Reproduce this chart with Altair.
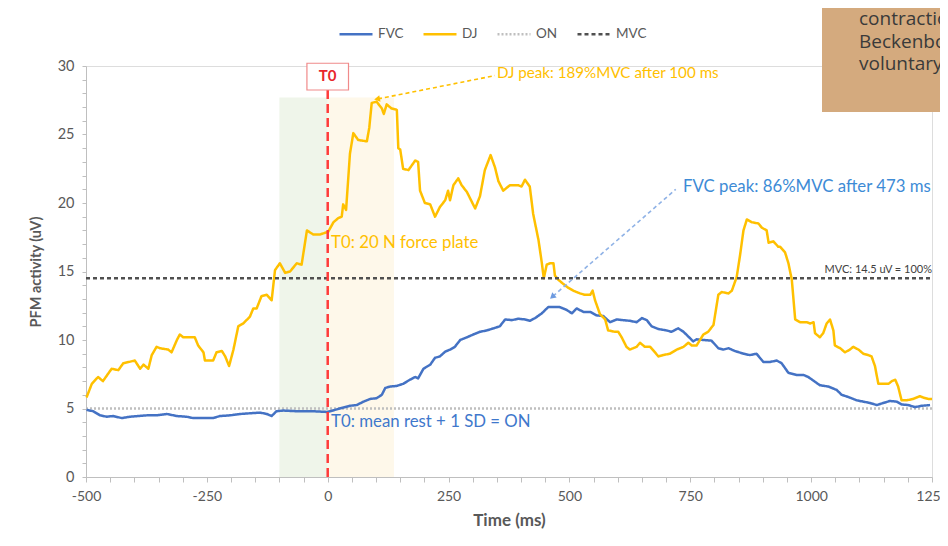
import altair as alt
import pandas as pd

# ---------------- data ----------------
dj_time = [-499, -488, -475, -465, -447, -433, -423, -399, -388, -381, -371, -364, -354, -347,
           -330, -323, -312, -306, -299, -285, -275, -268, -257, -254, -237, -230, -219, -212,
           -204, -195, -185, -175, -161, -154, -147, -137, -126, -116, -109, -99, -88, -78, -64,
           -54, -43, -30, -16, 1, 12, 22, 29, 32, 38, 46, 53, 63, 81, 86, 91, 101, 112, 116, 122,
           132, 143, 146, 150, 156, 167, 181, 187, 191, 201, 212, 222, 232, 243, 249, 253, 260,
           270, 277, 288, 305, 315, 325, 337, 346, 353, 363, 377, 394, 401, 408, 418, 425, 436,
           443, 447, 453, 460, 467, 470, 477, 487, 498, 508, 515, 522, 532, 543, 548, 553, 563,
           574, 580, 594, 601, 608, 618, 625, 639, 646, 656, 667, 677, 684, 694, 708, 722, 736,
           746, 753, 763, 770, 777, 787, 798, 808, 815, 829, 836, 846, 853, 860, 867, 877, 891,
           898, 908, 912, 922, 932, 936, 946, 953, 960, 967, 977, 991, 998, 1005, 1008, 1018,
           1025, 1032, 1039, 1046, 1049, 1060, 1070, 1080, 1087, 1098, 1108, 1118, 1125, 1132,
           1139, 1149, 1160, 1167, 1174, 1180, 1187, 1198, 1211, 1225, 1232, 1242, 1250]
dj_value = [5.8, 6.8, 7.3, 7.0, 7.9, 7.8, 8.3, 8.5, 7.9, 8.2, 7.9, 8.9, 9.5, 9.4,
            9.3, 9.1, 10.0, 10.4, 10.2, 10.2, 10.2, 9.6, 9.1, 8.5, 8.5, 9.1, 9.2, 8.8,
            8.1, 9.3, 11.0, 11.2, 11.7, 12.3, 12.3, 13.2, 13.3, 12.9, 15.1, 15.6, 14.9, 15.0, 15.6,
            15.5, 18.0, 17.7, 17.7, 17.9, 18.6, 18.9, 19.0, 19.9, 19.5, 23.6, 25.1, 24.6, 24.5, 25.5, 27.3, 27.4, 26.9, 26.5, 27.2,
            26.9, 26.8, 24.0, 23.9, 22.5, 22.4, 23.1, 23.0, 20.9, 20.0, 19.9, 19.0, 19.7, 20.2, 20.9, 20.2, 21.3,
            21.8, 21.3, 20.8, 19.6, 20.5, 22.4, 23.5, 22.6, 21.6, 20.9, 21.3, 21.3, 21.2, 21.7, 21.2, 19.2, 17.3,
            15.6, 14.5, 15.5, 15.6, 15.6, 14.7, 14.4, 14.1, 13.8, 13.6, 13.5, 13.4, 13.3, 13.3, 13.6, 12.9, 11.9,
            11.5, 10.7, 10.6, 10.6, 10.2, 9.5, 9.3, 9.5, 9.8, 9.5, 9.5, 9.1, 8.8, 8.9, 9.0, 9.3, 9.5,
            9.8, 9.6, 9.6, 10.0, 10.4, 10.6, 11.1, 13.3, 13.5, 13.4, 13.6, 14.6, 16.2, 18.0, 18.8, 18.6, 18.5,
            18.2, 18.0, 17.1, 17.2, 16.8, 16.8, 16.4, 15.6, 14.4, 11.5, 11.3, 11.3, 11.2, 11.3, 10.5, 10.2,
            10.5, 11.2, 11.5, 10.7, 9.6, 9.4, 9.1, 9.3, 9.5, 9.3, 9.0, 8.9, 8.8, 8.1,
            6.8, 6.8, 6.8, 7.0, 7.1, 6.6, 5.6, 5.6, 5.7, 5.9, 5.8, 5.7, 5.7]

fvc_time = [-499, -485, -471, -457, -444, -426, -409, -392, -374, -354, -333, -312, -292, -278,
            -257, -237, -223, -202, -181, -161, -140, -126, -116, -106, -92, -64, -30, -2, 5, 25,
            46, 60, 74, 88, 101, 112, 119, 129, 143, 156, 170, 181, 187, 198, 212, 222, 232, 243,
            253, 263, 274, 288, 301, 315, 329, 343, 356, 367, 381, 394, 408, 418, 429, 443, 456,
            470, 480, 494, 505, 515, 529, 543, 556, 570, 584, 598, 611, 625, 639, 650, 660, 670,
            684, 701, 711, 725, 736, 746, 756, 763, 777, 794, 808, 818, 829, 842, 860, 873, 887,
            901, 915, 929, 939, 953, 970, 984, 994, 1008, 1018, 1036, 1053, 1063, 1080, 1094,
            1108, 1122, 1136, 1149, 1163, 1177, 1187, 1201, 1215, 1229, 1246]
fvc_value = [4.9, 4.8, 4.5, 4.4, 4.45, 4.3, 4.4, 4.45, 4.5, 4.5, 4.6, 4.45, 4.4, 4.3,
             4.3, 4.3, 4.45, 4.5, 4.6, 4.65, 4.7, 4.6, 4.45, 4.8, 4.85, 4.8, 4.8, 4.75, 4.8, 5.0,
             5.2, 5.25, 5.5, 5.7, 5.75, 6.0, 6.5, 6.6, 6.65, 6.8, 7.1, 7.3, 7.2, 7.9, 8.2, 8.7, 8.8, 9.15,
             9.3, 9.5, 10.0, 10.2, 10.4, 10.6, 10.7, 10.85, 11.0, 11.5, 11.45, 11.55, 11.5, 11.4, 11.6, 11.95, 12.4,
             12.4, 12.4, 12.2, 11.95, 12.3, 12.05, 12.05, 11.8, 11.75, 11.3, 11.5, 11.45, 11.4, 11.3, 11.6, 11.45, 11.0,
             10.8, 10.7, 10.6, 10.85, 10.6, 10.25, 9.9, 10.05, 10.0, 9.95, 9.4, 9.3, 9.4, 9.2, 9.0, 8.9, 9.0,
             8.4, 8.4, 8.5, 8.3, 7.6, 7.45, 7.45, 7.3, 6.95, 6.7, 6.6, 6.35, 6.0, 5.8, 5.6,
             5.5, 5.4, 5.25, 5.4, 5.55, 5.5, 5.3, 5.25, 5.1, 5.2, 5.25]

series_names = ["FVC", "DJ", "ON", "MVC"]
series_colors = ["#4472C4", "#FFC000", "#BFBFBF", "#505050"]
series_dash = [[1, 0], [1, 0], [2, 2], [4, 3]]
series_width = [2.5, 2.5, 1.5, 2.5]
ref_time = [-500, 1250]
on_level = 5.0
mvc_level = 14.5

x_ticks = list(range(-500, 1251, 50))
y_ticks = list(range(0, 31, 1))

note_lines = ["contractio", "Beckenbo", "voluntary"]

# ---------------- tables ----------------
rows = []
for t in ref_time:
    rows.append({"x": t, "y": on_level, "series": "ON"})
for t, v in zip(fvc_time, fvc_value):
    rows.append({"x": t, "y": v, "series": "FVC"})
for t, v in zip(dj_time, dj_value):
    rows.append({"x": t, "y": v, "series": "DJ"})
for t in ref_time:
    rows.append({"x": t, "y": mvc_level, "series": "MVC"})
lines_df = pd.DataFrame(rows)

FONT = "Lato"
GRAY = "#595959"

xscale = alt.Scale(domain=[-500, 1250], nice=False, zero=False)
yscale = alt.Scale(domain=[0, 30], nice=False, zero=False)

x_axis = alt.Axis(values=x_ticks,
                  labelExpr="datum.value % 250 === 0 ? '' + datum.value : ''",
                  labelOverlap=False, labelFlush=False, grid=False,
                  tickSize=5, tickColor="#BFBFBF", domainColor="#BFBFBF",
                  labelColor=GRAY, labelFontSize=14, labelPadding=7, labelFont=FONT,
                  title="Time (ms)", titleColor=GRAY, titleFontSize=17, titleFontWeight="bold",
                  titleFont=FONT, titlePadding=9)
y_axis = alt.Axis(values=y_ticks, labelExpr="datum.value % 5 === 0 ? datum.label : ''",
                  labelOverlap=False, labelFlush=False, grid=False,
                  tickSize=4, tickColor="#BFBFBF", domainColor="#BFBFBF",
                  labelColor=GRAY, labelFontSize=14.5, labelPadding=8, labelFont=FONT,
                  title="PFM activity (uV)", titleColor=GRAY, titleFontSize=14.5, titleFontWeight="bold",
                  titleFont=FONT, titlePadding=14)


def X(f="x"):
    return alt.X(f"{f}:Q", scale=xscale, axis=x_axis)


def Y(f="y"):
    return alt.Y(f"{f}:Q", scale=yscale, axis=y_axis)


# shaded windows
shade_df = pd.DataFrame({"x": [-100, 0], "x2": [0, 137], "y": [0, 0], "y2": [27.7, 27.7],
                         "fill": ["#EFF5EA", "#FEF8EA"]})
shades = alt.Chart(shade_df).mark_rect().encode(
    x=X(), x2="x2:Q", y=Y(), y2="y2:Q",
    color=alt.Color("fill:N", scale=None),
)

lines = alt.Chart(lines_df).mark_line(strokeJoin="round").encode(
    x=X(), y=Y(),
    color=alt.Color("series:N", scale=alt.Scale(domain=series_names, range=series_colors),
                    legend=alt.Legend(title=None, orient="none", direction="horizontal",
                                      legendX=252, legendY=-50, symbolType="stroke",
                                      symbolSize=1089, symbolStrokeWidth=2.5,
                                      labelFontSize=13.5, labelColor=GRAY, labelFont=FONT,
                                      columnPadding=14, labelOffset=4)),
    strokeDash=alt.StrokeDash("series:N", scale=alt.Scale(domain=series_names, range=series_dash)),
    strokeWidth=alt.StrokeWidth("series:N", scale=alt.Scale(domain=series_names, range=series_width),
                                legend=None),
)

# T0 marker
t0_line = alt.Chart(pd.DataFrame({"x": [0], "y": [0], "y2": [28.25]})).mark_rule(
    color="#FF3B3B", strokeWidth=2.5, strokeDash=[9, 5]).encode(
    x=X(), y=Y(), y2="y2:Q")
t0_box = alt.Chart(pd.DataFrame({"x": [-43], "x2": [43], "y": [28.25], "y2": [30.2]})).mark_rect(
    fill="white", stroke="#F08A8A", strokeWidth=1.2).encode(
    x=X(), x2="x2:Q", y=Y(), y2="y2:Q")
t0_text = alt.Chart(pd.DataFrame({"x": [0], "y": [29.25], "t": ["T0"]})).mark_text(
    color="#E8262B", fontWeight="bold", fontSize=15, font=FONT, baseline="middle").encode(
    x=X(), y=Y(), text="t:N")

# annotation texts
ann_df = pd.DataFrame({
    "x": [350, 735, 7, 7],
    "y": [29.5, 21.2, 17.1, 4.0],
    "t": ["DJ peak: 189%MVC after 100 ms", "FVC peak: 86%MVC after 473 ms",
          "T0: 20 N force plate", "T0: mean rest +  1 SD = ON"],
    "c": ["#FFC000", "#3D8BD6", "#FFC000", "#3F78CC"],
    "s": [15.2, 16.8, 16.8, 16.8],
})
ann = alt.Chart(ann_df).mark_text(align="left", baseline="middle", font=FONT).encode(
    x=X(), y=Y(), text="t:N", color=alt.Color("c:N", scale=None),
    size=alt.Size("s:Q", scale=None))

mvc_lab = alt.Chart(pd.DataFrame({"x": [1250], "y": [15.1], "t": ["MVC: 14.5 uV = 100%"]})).mark_text(
    align="right", baseline="middle", fontSize=11, font=FONT, color="#404040").encode(
    x=X(), y=Y(), text="t:N")

# arrows
arrow_df = pd.DataFrame({
    "x": [346, 104, 720, 466],
    "y": [29.3, 27.6, 21.0, 13.2],
    "a": ["dj", "dj", "fvc", "fvc"],
    "c": ["#FFC000", "#FFC000", "#8FB2E6", "#8FB2E6"],
})
arrows = alt.Chart(arrow_df).mark_line(strokeDash=[4, 3], strokeWidth=1.6).encode(
    x=X(), y=Y(), detail="a:N", color=alt.Color("c:N", scale=None))
head_df = pd.DataFrame({"x": [104, 466], "y": [27.6, 13.2], "ang": [259, 229],
                        "c": ["#FFC000", "#6E9BE0"]})
heads = alt.Chart(head_df).mark_point(shape="triangle", filled=True, size=45, opacity=1).encode(
    x=X(), y=Y(), angle=alt.Angle("ang:Q", scale=None), color=alt.Color("c:N", scale=None))

# side note box (cut off in the original screenshot)
note_box = alt.Chart(pd.DataFrame({"a": [1]})).mark_rect(color="#D4AA7E").encode(
    x=alt.value(736), x2=alt.value(870), y=alt.value(-70), y2=alt.value(46))
note_layers = []
for txt, yy in zip(note_lines, [-41, -18.5, 4]):
    note_layers.append(
        alt.Chart(pd.DataFrame({"t": [txt]})).mark_text(
            align="left", baseline="alphabetic", fontSize=19, font="Open Sans", color="#3A3A3A"
        ).encode(x=alt.value(773), y=alt.value(yy), text="t:N")
    )

chart = alt.layer(
    shades, lines, arrows, heads, t0_line, t0_box, t0_text, ann, mvc_lab,
    note_box, *note_layers
).properties(
    width=846, height=411,
    autosize=alt.AutoSizeParams(type="none"),
    padding={"left": 78, "top": 58, "right": 8, "bottom": 61},
).configure_view(stroke=None).configure(font=FONT)

chart.save("out.html", embed_options={"renderer": "svg", "actions": False})
